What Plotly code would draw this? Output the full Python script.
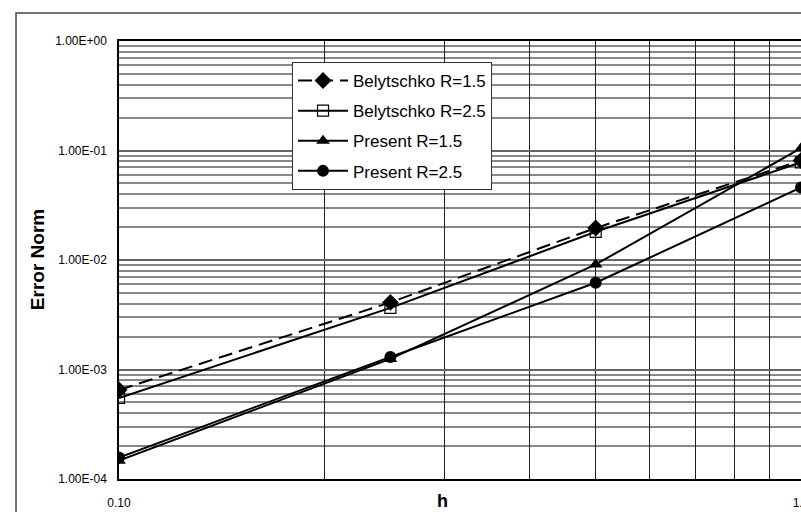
import plotly.graph_objects as go

h_vals = [0.1, 0.25, 0.5, 1.0]
bel_r15 = [6.5e-4, 4.1e-3, 0.0196, 0.081]
bel_r25 = [5.5e-4, 3.65e-3, 0.0181, 0.078]
pre_r15 = [1.47e-4, 1.25e-3, 0.0091, 0.105]
pre_r25 = [1.57e-4, 1.3e-3, 0.0062, 0.046]

names = ["Belytschko R=1.5", "Belytschko R=2.5", "Present R=1.5", "Present R=2.5"]

x_grid = [0.1, 0.2, 0.3, 0.4, 0.5, 0.6, 0.7, 0.8, 0.9, 1.0]
x_text = ["0.10", "", "", "", "", "", "", "", "", "1.0"]
y_major = [1e-4, 1e-3, 1e-2, 1e-1, 1e0]
y_text = ["1.00E-04", "1.00E-03", "1.00E-02", "1.00E-01", "1.00E+00"]
y_minor = [2e-4, 3e-4, 4e-4, 5e-4, 6e-4, 7e-4, 8e-4, 9e-4,
           2e-3, 3e-3, 4e-3, 5e-3, 6e-3, 7e-3, 8e-3, 9e-3,
           2e-2, 3e-2, 4e-2, 5e-2, 6e-2, 7e-2, 8e-2, 9e-2,
           0.2, 0.3, 0.4, 0.5, 0.6, 0.7, 0.8, 0.9]

FONT = "Liberation Sans, Arial, sans-serif"

fig = go.Figure()
styles = [
    (bel_r15, dict(color="black", width=2, dash="14px,7px"), dict(symbol="diamond", size=13, color="black")),
    (bel_r25, dict(color="black", width=2), dict(symbol="square-open", size=11, color="black", line=dict(width=1.2, color="black"))),
    (pre_r15, dict(color="black", width=2), dict(symbol="triangle-up", size=12, color="black")),
    (pre_r25, dict(color="black", width=2), dict(symbol="circle", size=12, color="black")),
]
for i, (ys, ln, mk) in enumerate(styles):
    fig.add_trace(go.Scatter(x=h_vals, y=ys, mode="lines+markers", name=names[i],
                             line=ln, marker=mk, legendgroup=str(i)))

fig.update_layout(
    width=801, height=512,
    margin=dict(l=119, r=0, t=41, b=33, autoexpand=False),
    paper_bgcolor="white", plot_bgcolor="white",
    font=dict(family=FONT, color="black"),
    showlegend=True,
    legend=dict(x=0.2537, y=0.952, xanchor="left", yanchor="top",
                bgcolor="white", bordercolor="#333", borderwidth=1,
                font=dict(size=17, family=FONT), tracegroupgap=5,
                traceorder="grouped", itemwidth=50),
    xaxis=dict(type="log", range=[-1, 0], tickvals=x_grid, ticktext=x_text,
               showgrid=True, gridcolor="#222", gridwidth=1,
               showline=True, linecolor="black", linewidth=1.5, mirror=True,
               ticks="", tickfont=dict(size=12, family=FONT), ticklabelstandoff=12,
               ticklabeloverflow="allow", automargin=False, zeroline=False),
    yaxis=dict(type="log", range=[-4, 0], tickvals=y_major, ticktext=y_text,
               showgrid=True, gridcolor="#666", gridwidth=1.5,
               minor=dict(tickvals=y_minor, showgrid=True, gridcolor="#888", gridwidth=1.5, ticks=""),
               showline=True, linecolor="black", linewidth=1.5, mirror=True,
               ticks="", tickfont=dict(size=12, family=FONT), ticklabelstandoff=8,
               automargin=False, zeroline=False),
    annotations=[
        dict(text="<b>h</b>", x=0.475, y=-0.05, xref="paper", yref="paper",
             showarrow=False, font=dict(size=18, family=FONT), xanchor="center", yanchor="middle"),
        dict(text="<b>Error Norm</b>", x=-0.120, y=0.5, xref="paper", yref="paper",
             showarrow=False, textangle=-90, font=dict(size=19, family=FONT),
             xanchor="center", yanchor="middle"),
    ],
    shapes=[
        dict(type="rect", xref="paper", yref="paper", x0=-0.151, x1=1.05, y0=-0.2, y1=1.064,
             line=dict(color="#444", width=1.5), layer="below"),
    ],
)

fig.write_html("out.html", config={"responsive": False, "displayModeBar": False},
               post_script="document.body.style.margin='0px';document.body.style.overflow='hidden';")
